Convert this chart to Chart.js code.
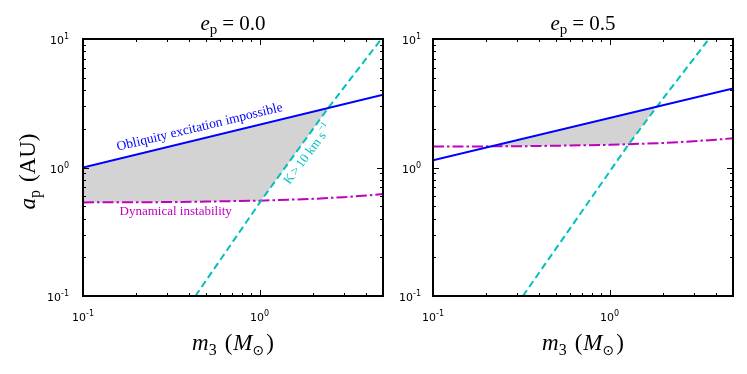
<!DOCTYPE html>
<html>
<head>
<meta charset="utf-8">
<script src="https://cdn.jsdelivr.net/npm/chart.js@4.4.1/dist/chart.umd.min.js"></script>
<style>
  html, body { margin: 0; padding: 0; background: #ffffff; }
  #wrap { position: relative; width: 747px; height: 374px; overflow: hidden; }
  canvas { position: absolute; top: 0; }
</style>
</head>
<body>
<div id="wrap">
  <canvas id="c1" width="395" height="374" style="left:0px"></canvas>
  <canvas id="c2" width="352" height="374" style="left:395px"></canvas>
</div>
<script>
// ---------------- data ----------------
const panelTitles = ["0.0", "0.5"];          // e_p values
const xTickValues = [0.1, 1];
const xTickExps = ["-1", "0"];
const yTickValues = [0.1, 1, 10];
const yTickExps = ["-1", "0", "1"];
const xMinorTicks = [0.2, 0.3, 0.4, 0.5, 0.6, 0.7, 0.8, 0.9, 2, 3, 4];
const yMinorTicks = [0.2, 0.3, 0.4, 0.5, 0.6, 0.7, 0.8, 0.9, 2, 3, 4, 5, 6, 7, 8, 9];

// dynamical instability boundary (magenta dash-dot)
const stabMass  = [0.1, 0.3, 0.5, 1, 2, 3, 4, 5];
const stabLeft  = [0.535, 0.538, 0.543, 0.552, 0.570, 0.588, 0.605, 0.622];
const stabRight = [1.455, 1.463, 1.477, 1.500, 1.550, 1.600, 1.646, 1.690];

// obliquity excitation boundary (blue solid)
const oblMass  = [0.1, 5];
const oblLeft  = [1.00, 3.68];
const oblRight = [1.14, 4.13];

// K > 10 km/s boundary (cyan dashed)
const kMassLeft  = [0.433, 1.02, 2.44, 4.89];
const kALeft     = [0.1, 0.552, 2.89, 10];
const kMassRight = [0.323, 1.285, 1.855, 3.65];
const kARight    = [0.1, 1.52, 2.98, 10];

// allowed (shaded) regions
const regionMassLeft  = [0.1, 2.44, 1.02, 1.0, 0.5, 0.3, 0.1];
const regionALeft     = [1.0, 2.89, 0.552, 0.552, 0.543, 0.538, 0.535];
const regionMassRight = [0.214, 1.855, 1.285, 1.0, 0.5, 0.3, 0.214];
const regionARight    = [1.47, 3.02, 1.52, 1.50, 1.477, 1.463, 1.46];

// ---------------- helpers ----------------
const BLUE = '#0000ff', MAG = '#bf00bf', CYAN = '#00bfbf', GREY = '#d3d3d3';
const SERIF = '"Liberation Serif", "DejaVu Serif", serif';
const SANS = '"DejaVu Sans", sans-serif';

function pts(xs, ys) { return xs.map((x, i) => ({ x: x, y: ys[i] })); }

function drawRich(ctx, segs, x, y, angle, align) {
  ctx.save();
  ctx.translate(x, y);
  ctx.rotate(angle || 0);
  ctx.textBaseline = 'alphabetic';
  ctx.textAlign = 'left';
  let total = 0;
  segs.forEach(s => { ctx.font = s.font; s.w = ctx.measureText(s.t).width; total += s.w + (s.gap || 0); });
  let cx = align === 'right' ? -total : -total / 2;
  segs.forEach(s => {
    ctx.font = s.font;
    ctx.fillStyle = s.color || '#000';
    ctx.fillText(s.t, cx, s.dy || 0);
    cx += s.w + (s.gap || 0);
  });
  ctx.restore();
}

function powLabel(exp) {
  return [
    { t: '10', font: '11px ' + SANS },
    { t: exp, font: '8px ' + SANS, dy: -5 }
  ];
}

function makePanel(id, cfg) {
  const framePlugin = {
    id: 'frame' + id,
    afterDatasetsDraw(chart) {
      const ctx = chart.ctx, a = chart.chartArea;
      const xs = chart.scales.x, ys = chart.scales.y;
      ctx.save();
      ctx.strokeStyle = '#000';
      ctx.lineWidth = 1;
      ctx.beginPath();
      const tick = (vals, len, axis) => {
        vals.forEach(v => {
          if (axis === 'x') {
            const p = Math.round(xs.getPixelForValue(v)) + 0.5;
            ctx.moveTo(p, a.bottom); ctx.lineTo(p, a.bottom - len);
            ctx.moveTo(p, a.top); ctx.lineTo(p, a.top + len);
          } else {
            const p = Math.round(ys.getPixelForValue(v)) + 0.5;
            ctx.moveTo(a.left, p); ctx.lineTo(a.left + len, p);
            ctx.moveTo(a.right, p); ctx.lineTo(a.right - len, p);
          }
        });
      };
      tick(xMinorTicks, 3, 'x');
      tick(yMinorTicks, 3, 'y');
      tick(xTickValues, 6, 'x');
      tick(yTickValues, 6, 'y');
      ctx.stroke();
      ctx.lineWidth = 2;
      ctx.strokeRect(a.left, a.top, a.right - a.left, a.bottom - a.top);
      ctx.restore();

      // tick labels
      xTickValues.forEach((v, i) => {
        drawRich(ctx, powLabel(xTickExps[i]), xs.getPixelForValue(v), a.bottom + 25, 0);
      });
      yTickValues.forEach((v, i) => {
        drawRich(ctx, powLabel(yTickExps[i]), a.left - cfg.yPad, ys.getPixelForValue(v) + 5, 0, 'right');
      });

      // in-plot annotations
      (cfg.notes || []).forEach(n => {
        const px = xs.getPixelForValue(n.x), py = ys.getPixelForValue(n.y);
        let ang = 0;
        if (n.along) {
          const l = n.along;
          const x1 = xs.getPixelForValue(l[0].x), y1 = ys.getPixelForValue(l[0].y);
          const x2 = xs.getPixelForValue(l[1].x), y2 = ys.getPixelForValue(l[1].y);
          ang = Math.atan2(y2 - y1, x2 - x1);
        }
        drawRich(ctx, n.segs, px, py, ang);
      });
    },
    afterDraw(chart) {
      const ctx = chart.ctx, a = chart.chartArea;
      const cx = (a.left + a.right) / 2;
      // panel title
      drawRich(ctx, [
        { t: 'e', font: 'italic 21px ' + SERIF },
        { t: 'p', font: '15px ' + SERIF, dy: 4, gap: 5 },
        { t: '=', font: '21px ' + SERIF, gap: 5 },
        { t: cfg.title, font: '21px ' + SERIF }
      ], cx, a.top - 9, 0);
      // x axis title
      drawRich(ctx, [
        { t: 'm', font: 'italic 23px ' + SERIF },
        { t: '3', font: '16px ' + SERIF, dy: 5, gap: 8 },
        { t: '(', font: '23px ' + SERIF, gap: 1 },
        { t: 'M', font: 'italic 23px ' + SERIF },
        { t: '\u2299', font: '14px ' + SANS, dy: 5, gap: 2 },
        { t: ')', font: '23px ' + SERIF }
      ], cx, 350, 0);
      // y axis title
      if (cfg.yTitle) {
        drawRich(ctx, [
          { t: 'a', font: 'italic 23px ' + SERIF },
          { t: 'p', font: '16px ' + SERIF, dy: 5, gap: 8 },
          { t: '(AU)', font: '23px ' + SERIF }
        ], 35, (a.top + a.bottom) / 2 + 4, -Math.PI / 2);
      }
    }
  };

  const canvas = document.getElementById(id);
  return new Chart(canvas, {
    type: 'line',
    data: { datasets: cfg.datasets },
    options: {
      responsive: false,
      animation: false,
      devicePixelRatio: 1,
      layout: { padding: { left: 0, top: 39, right: cfg.padRight, bottom: 0 } },
      plugins: { legend: { display: false }, tooltip: { enabled: false }, title: { display: false } },
      elements: { point: { radius: 0 } },
      scales: {
        x: {
          type: 'logarithmic', min: 0.1, max: 5,
          grid: { display: false, drawTicks: false },
          border: { display: false },
          afterBuildTicks: s => { s.ticks = xTickValues.map(v => ({ value: v })); },
          afterFit: s => { s.height = 78; },
          ticks: { display: false }
        },
        y: {
          type: 'logarithmic', min: 0.1, max: 10,
          grid: { display: false, drawTicks: false },
          border: { display: false },
          afterBuildTicks: s => { s.ticks = yTickValues.map(v => ({ value: v })); },
          afterFit: s => { s.width = cfg.yAxisW; },
          ticks: { display: false }
        }
      }
    },
    plugins: [framePlugin]
  });
}

function panelDatasets(regionM, regionA, oblA, stabA, kM, kA) {
  return [
    { data: pts(oblMass, oblA), borderColor: BLUE, borderWidth: 2, fill: false, order: 1 },
    { data: pts(kM, kA), borderColor: CYAN, borderWidth: 2, borderDash: [7, 4], fill: false, order: 2 },
    { data: pts(stabMass, stabA), borderColor: MAG, borderWidth: 2, borderDash: [11, 3, 2.5, 3], fill: false, order: 3 },
    { data: pts(regionM, regionA), borderColor: 'rgba(0,0,0,0)', borderWidth: 0, backgroundColor: GREY, fill: 'shape', order: 10 }
  ];
}

makePanel('c1', {
  title: panelTitles[0], yTitle: true, yAxisW: 83, yPad: 14, padRight: 12,
  datasets: panelDatasets(regionMassLeft, regionALeft, oblLeft, stabLeft, kMassLeft, kALeft),
  notes: [
    { x: 0.463, y: 1.93, along: pts(oblMass, oblLeft),
      segs: [{ t: 'Obliquity excitation impossible', font: '13.5px ' + SERIF, color: BLUE }] },
    { x: 0.335, y: 0.43,
      segs: [{ t: 'Dynamical instability', font: '13px ' + SERIF, color: MAG }] },
    { x: 1.95, y: 1.22, along: [{ x: kMassLeft[1], y: kALeft[1] }, { x: kMassLeft[3], y: kALeft[3] }],
      segs: [{ t: 'K', font: '13px ' + SERIF, color: CYAN, gap: 2 },
             { t: '>', font: '13px ' + SERIF, color: CYAN, gap: 2 },
             { t: '10 km s', font: '13px ' + SERIF, color: CYAN },
             { t: '\u22121', font: '9px ' + SERIF, color: CYAN, dy: -6 }] }
  ]
});

makePanel('c2', {
  title: panelTitles[1], yTitle: false, yAxisW: 38, yPad: 12, padRight: 14,
  datasets: panelDatasets(regionMassRight, regionARight, oblRight, stabRight, kMassRight, kARight),
  notes: []
});
</script>
</body>
</html>
